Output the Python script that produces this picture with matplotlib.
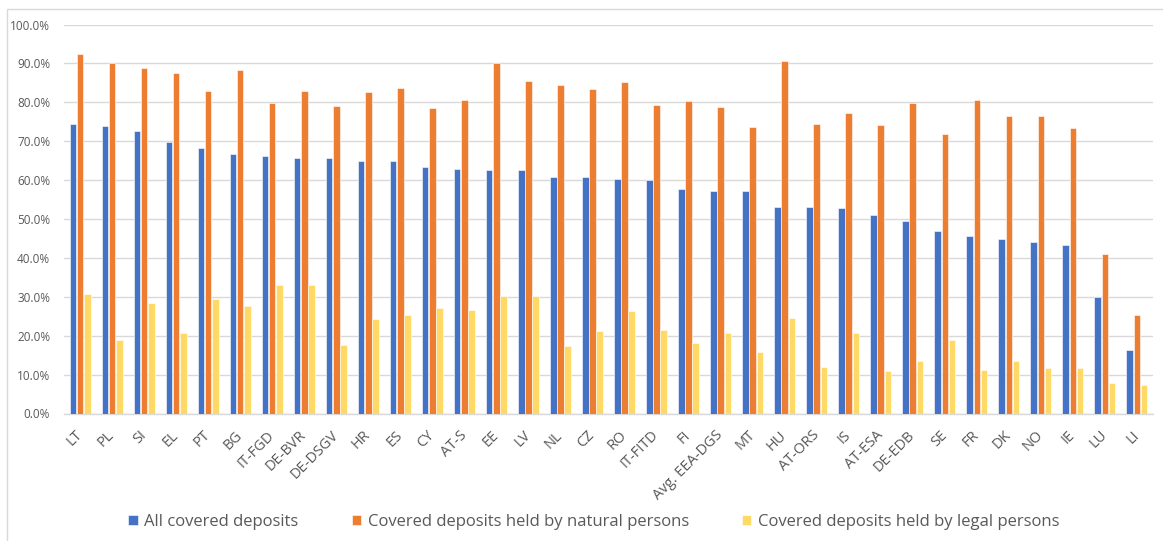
import numpy as np
import matplotlib.pyplot as plt
from matplotlib.patches import Rectangle
from matplotlib.ticker import PercentFormatter

# Share of covered deposits per DGS
dgs = ['LT', 'PL', 'SI', 'EL', 'PT', 'BG', 'IT-FGD', 'DE-BVR', 'DE-DSGV', 'HR',
       'ES', 'CY', 'AT-S', 'EE', 'LV', 'NL', 'CZ', 'RO', 'IT-FITD', 'FI',
       'Avg. EEA-DGS', 'MT', 'HU', 'AT-ORS', 'IS', 'AT-ESA', 'DE-EDB', 'SE', 'FR', 'DK',
       'NO', 'IE', 'LU', 'LI']
alle = [74.5, 74.0, 72.6, 69.9, 68.2, 66.8, 66.2, 65.8, 65.8, 65.0,
        65.0, 63.4, 62.9, 62.7, 62.7, 60.7, 60.7, 60.3, 60.0, 57.7,
        57.3, 57.2, 53.0, 53.0, 52.7, 51.0, 49.5, 46.8, 45.6, 44.9,
        44.0, 43.4, 29.9, 16.3]
naturaal = [92.3, 90.2, 88.9, 87.6, 82.9, 88.4, 79.9, 82.9, 79.0, 82.6,
            83.6, 78.5, 80.5, 90.0, 85.5, 84.4, 83.3, 85.2, 79.2, 80.4,
            78.8, 73.7, 90.5, 74.3, 77.3, 74.1, 79.7, 71.9, 80.5, 76.4,
            76.6, 73.3, 41.1, 25.4]
juriidiline = [30.7, 18.9, 28.5, 20.6, 29.4, 27.7, 33.1, 33.1, 17.6, 24.3,
               25.3, 27.0, 26.6, 30.3, 30.2, 17.4, 21.2, 26.3, 21.5, 18.0,
               20.8, 15.9, 24.5, 12.0, 20.6, 10.8, 13.5, 19.0, 11.1, 13.5,
               11.7, 11.7, 7.8, 7.3]

seeria_nimed = ['All covered deposits',
                'Covered deposits held by natural persons',
                'Covered deposits held by legal persons']
varvid = ['#4472C4', '#ED7D31', '#FFD966']

plt.rcParams['font.family'] = ['Open Sans', 'DejaVu Sans']

fig = plt.figure(figsize=(11.63, 5.41), dpi=100)
ax = fig.add_axes([64 / 1163, 1 - 413.5 / 541, 1089 / 1163, 389 / 541])

# raam ümber graafiku
fig.patches.append(Rectangle((7 / 1163, -0.05), 1.2, 1 - 9 / 541 + 0.05,
                             transform=fig.transFigure, fill=False,
                             edgecolor='#D9D9D9', linewidth=1))

x = np.arange(len(dgs))
laius = 0.205
nihe = 0.225
for i, (vaartused, nimi, v) in enumerate(zip([alle, naturaal, juriidiline], seeria_nimed, varvid)):
    ax.bar(x + (i - 1) * nihe, np.array(vaartused) / 100, width=laius, color=v,
           edgecolor='white', linewidth=0.4, label=nimi, zorder=3)

ax.set_xlim(-0.5, len(dgs) - 0.5)
ax.set_ylim(0, 1.0)
ax.set_yticks(np.arange(0, 1.01, 0.1))
ax.yaxis.set_major_formatter(PercentFormatter(1.0, decimals=1))
ax.grid(axis='y', color='#D9D9D9', linewidth=1, zorder=0)
for s in ['top', 'right', 'left']:
    ax.spines[s].set_visible(False)
ax.spines['bottom'].set_color('#D9D9D9')
ax.spines['bottom'].set_linewidth(1)
ax.tick_params(length=0, colors='#595959', labelsize=8.5)
ax.tick_params(axis='y', pad=10)
ax.set_xticks(x)
ax.set_xticklabels(dgs, rotation=45, ha='right', va='center',
                   rotation_mode='anchor', fontsize=10.5)
ax.tick_params(axis='x', pad=14)

fig.legend(loc='center', bbox_to_anchor=(594 / 1163, 1 - 522 / 541), ncol=3,
           frameon=False, fontsize=12, handlelength=0.55, handleheight=0.55,
           handletextpad=0.4, columnspacing=3.2, labelcolor='#595959')

plt.savefig('out.png', dpi=100)
